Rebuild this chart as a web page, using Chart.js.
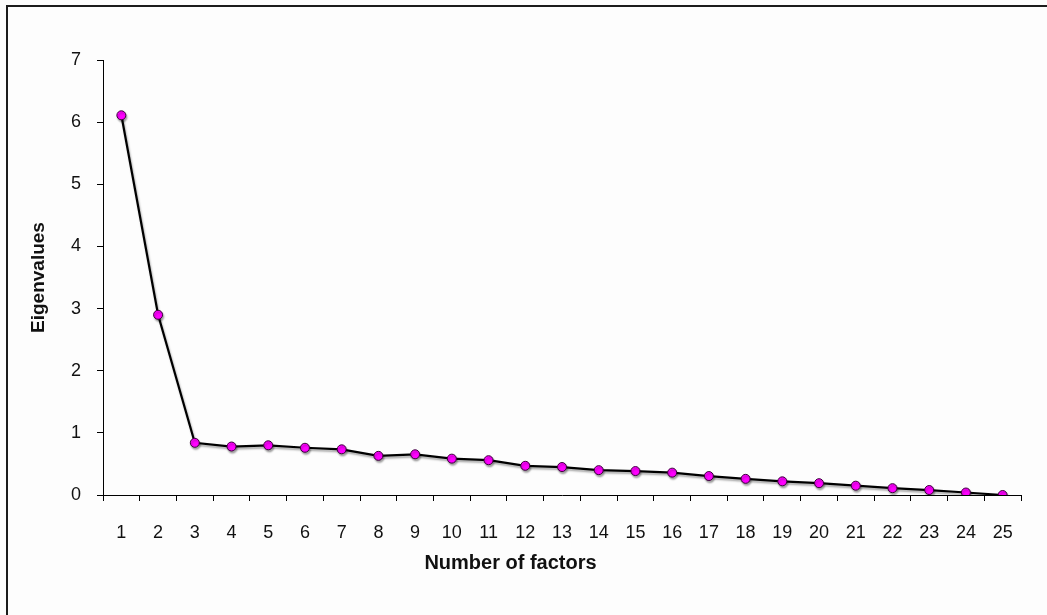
<!DOCTYPE html>
<html>
<head>
<meta charset="utf-8">
<script src="https://cdn.jsdelivr.net/npm/chart.js@4/dist/chart.umd.min.js"></script>
<style>
  html, body { margin: 0; padding: 0; background: #fdfdfd; }
  #wrap { position: relative; width: 1047px; height: 615px; overflow: hidden; }
  #frame { position: absolute; left: 6px; top: 5px; width: 1100px; height: 700px;
           border-top: 2px solid #1c1c1c; border-left: 2px solid #1c1c1c; }
  canvas { position: absolute; left: 0; top: 0; }
</style>
</head>
<body>
<div id="wrap">
  <div id="frame"></div>
  <canvas id="scree" width="1047" height="615"></canvas>
</div>
<script>
// Scree plot: eigenvalue of each extracted factor
const factors = ['1','2','3','4','5','6','7','8','9','10','11','12','13','14','15','16','17','18','19','20','21','22','23','24','25'];
const eigenvalues = [6.11, 2.90, 0.84, 0.78, 0.80, 0.76, 0.735, 0.63, 0.655, 0.585, 0.56, 0.47, 0.45, 0.40, 0.385, 0.36, 0.305, 0.26, 0.22, 0.19, 0.15, 0.11, 0.08, 0.04, 0.0];
const yTicks = [0, 1, 2, 3, 4, 5, 6, 7];

const INK = '#111111';
const tickFont = { family: '"Liberation Sans Narrow", "Liberation Sans", Arial, sans-serif', size: 18 };
const xTitleFont = { family: '"Liberation Sans", Arial, sans-serif', size: 20, weight: 'bold' };
const yTitleFont = { family: '"Liberation Sans", Arial, sans-serif', size: 19, weight: 'bold' };

// soft grey shadow under the series line
const lineShadow = {
  id: 'lineShadow',
  beforeDatasetsDraw(chart) {
    const ctx = chart.ctx;
    ctx.save();
    ctx.shadowColor = 'rgba(0,0,0,0.35)';
    ctx.shadowOffsetX = 1;
    ctx.shadowOffsetY = 2;
    ctx.shadowBlur = 2;
  },
  afterDatasetsDraw(chart) {
    chart.ctx.restore();
  }
};

new Chart(document.getElementById('scree'), {
  type: 'line',
  data: {
    labels: factors,
    datasets: [{
      data: eigenvalues,
      borderColor: '#000000',
      borderWidth: 2.2,
      tension: 0,
      pointRadius: 4.5,
      pointBorderWidth: 1,
      pointBackgroundColor: '#ff00ff',
      pointBorderColor: '#3a003a',
      pointHoverRadius: 4.5
    }]
  },
  plugins: [lineShadow],
  options: {
    responsive: false,
    animation: false,
    events: [],
    layout: { padding: { left: 0, right: 26, top: 60, bottom: 0 } },
    plugins: {
      legend: { display: false },
      tooltip: { enabled: false },
      title: {
        display: true,
        position: 'bottom',
        text: 'Number of factors',
        color: INK,
        font: xTitleFont,
        padding: { top: 0, bottom: 40 }
      }
    },
    scales: {
      x: {
        type: 'category',
        offset: true,
        afterFit: (axis) => { axis.height = 56; },
        grid: {
          offset: true,
          drawOnChartArea: false,
          drawTicks: true,
          tickLength: 6,
          color: '#000000',
          lineWidth: 1
        },
        border: { display: true, color: '#000000', width: 1 },
        ticks: {
          color: INK,
          font: tickFont,
          padding: 21,
          maxRotation: 0,
          autoSkip: false
        }
      },
      y: {
        min: 0,
        max: 7,
        afterFit: (axis) => { axis.width = 103; },
        afterBuildTicks: (axis) => { axis.ticks = yTicks.map(v => ({ value: v })); },
        grid: {
          drawOnChartArea: false,
          drawTicks: true,
          tickLength: 6,
          color: '#000000',
          lineWidth: 1
        },
        border: { display: true, color: '#000000', width: 1 },
        ticks: {
          color: INK,
          font: tickFont,
          padding: 16
        },
        title: {
          display: true,
          text: 'Eigenvalues',
          color: INK,
          font: yTitleFont,
          padding: { top: 27, bottom: 0 }
        }
      }
    }
  }
});
</script>
</body>
</html>
